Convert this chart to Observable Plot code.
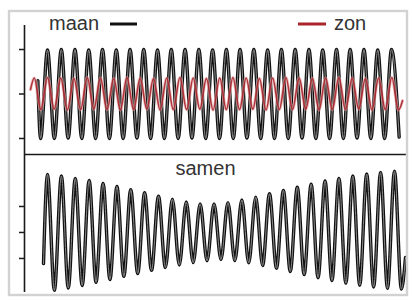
<!DOCTYPE html>
<html><head><meta charset="utf-8">
<script src="https://cdn.jsdelivr.net/npm/d3@7"></script>
<script src="https://cdn.jsdelivr.net/npm/@observablehq/plot@0.6"></script>
<style>
html,body{margin:0;padding:0;background:#fff;}
#chart{position:relative;width:412px;height:300px;overflow:hidden;background:#fff;font-family:"Liberation Sans",Arial,sans-serif;}
#chart > svg{position:absolute;left:0;}
</style></head><body><div id="chart"></div>
<script>
// ---- data (time in hours) ----
const seriesNames = ["maan", "zon", "samen"];

// moon tide (top, black): extremes
const maanTijd = [12.0, 14.5, 20.7, 26.9, 33.1, 39.3, 45.4, 51.6, 57.8, 64.0, 70.2, 76.4, 82.6, 88.8, 95.0, 101.2, 107.3, 113.5, 119.7, 125.9, 132.1, 138.3, 144.5, 150.7, 156.9, 163.1, 169.3, 175.5, 181.7, 187.9, 194.0, 200.2, 206.4, 212.6, 218.8, 225.0, 231.2, 237.4, 243.6, 249.8, 256.0, 262.2, 268.4, 274.6, 280.8, 287.0, 293.1, 299.3, 305.5, 311.7, 317.9, 324.1, 330.3, 337.2];
const maanWaarde = [0.3, -1.0, 0.99, -1.0, 1.0, -0.99, 1.0, -1.0, 0.99, -1.0, 1.0, -1.0, 0.99, -1.0, 1.0, -0.99, 1.0, -1.0, 0.99, -1.0, 1.0, -1.0, 1.0, -0.99, 1.0, -1.0, 0.99, -1.0, 1.0, -1.0, 1.0, -0.99, 1.0, -1.0, 0.99, -1.0, 1.0, -1.0, 1.0, -0.99, 1.0, -1.0, 0.99, -1.0, 1.0, -1.0, 1.0, -0.99, 1.0, -1.0, 0.99, -1.0, 1.0, -0.97];

// sun tide (top, red): extremes
const zonTijd = [5.4, 8.8, 14.7, 20.7, 26.7, 32.6, 38.6, 44.5, 50.5, 56.5, 62.4, 68.4, 74.3, 80.3, 86.3, 92.2, 98.2, 104.1, 110.1, 116.1, 122.0, 128.0, 133.9, 139.9, 145.9, 151.8, 157.8, 163.7, 169.7, 175.7, 181.6, 187.6, 193.5, 199.5, 205.5, 211.4, 217.4, 223.3, 229.3, 235.3, 241.2, 247.2, 253.1, 259.1, 265.1, 271.0, 277.0, 282.9, 288.9, 294.9, 300.8, 306.8, 312.7, 318.7, 324.7, 330.6, 336.6, 340.2];
const zonWaarde = [0.1, 0.36, -0.35, 0.37, -0.34, 0.36, -0.36, 0.35, -0.35, 0.37, -0.34, 0.36, -0.35, 0.35, -0.36, 0.37, -0.35, 0.36, -0.34, 0.35, -0.36, 0.36, -0.35, 0.37, -0.35, 0.36, -0.34, 0.35, -0.36, 0.36, -0.35, 0.37, -0.35, 0.36, -0.34, 0.35, -0.36, 0.36, -0.35, 0.37, -0.35, 0.36, -0.34, 0.35, -0.36, 0.36, -0.35, 0.37, -0.35, 0.36, -0.34, 0.35, -0.36, 0.36, -0.35, 0.37, -0.36, -0.15];

// combined tide (bottom): extremes
const samenTijd = [17.1, 20.7, 26.9, 33.2, 39.4, 45.7, 51.9, 58.2, 64.4, 70.7, 76.9, 83.2, 89.4, 95.6, 101.9, 108.1, 114.3, 120.6, 126.8, 133.1, 139.3, 145.6, 151.8, 158.1, 164.3, 170.6, 176.8, 183.1, 189.3, 195.6, 201.8, 208.1, 214.3, 220.5, 226.8, 233.0, 239.2, 245.5, 251.7, 258.0, 264.2, 270.5, 276.7, 283.0, 289.2, 295.5, 301.7, 308.0, 314.2, 320.5, 326.7, 333.0, 339.2, 342.9];
const samenWaarde = [-1.2, 2.23, -2.23, 2.17, -2.14, 2.08, -2.04, 2.0, -1.92, 1.89, -1.81, 1.77, -1.69, 1.65, -1.58, 1.53, -1.46, 1.40, -1.35, 1.28, -1.25, 1.17, -1.16, 1.10, -1.09, 1.10, -1.04, 1.15, -1.08, 1.25, -1.17, 1.36, -1.27, 1.49, -1.38, 1.62, -1.50, 1.74, -1.62, 1.86, -1.74, 1.98, -1.85, 2.08, -1.95, 2.17, -2.03, 2.25, -2.10, 2.31, -2.15, 2.36, -2.18, -0.96];

const topTicks = [-1, 0, 1];
const bottomTicks = [-1, 0, 1];

// ---- build tables ----
const maan = maanTijd.map((t, i) => ({t, v: maanWaarde[i]}));
const zon = zonTijd.map((t, i) => ({t, v: zonWaarde[i]}));
const samen = samenTijd.map((t, i) => ({t, v: samenWaarde[i]}));

const xDomain = [0, 345.6];
const AX = "#1a1a1a";
const RED = "#a8242a";

const topPlot = Plot.plot({
  width: 412, height: 155,
  marginLeft: 24, marginRight: 4, marginTop: 25, marginBottom: 1,
  style: {background: "transparent", overflow: "visible"},
  x: {domain: xDomain, axis: null},
  y: {domain: [-1.36, 1.54], axis: null},
  marks: [
    Plot.line(maan, {x: "t", y: "v", curve: "monotone-x", stroke: "#111", strokeWidth: 3.4}),
    Plot.line(maan, {x: "t", y: "v", curve: "monotone-x", stroke: "#8a8a8a", strokeWidth: 1.0}),
    Plot.line(zon, {x: "t", y: "v", curve: "monotone-x", stroke: "#e2a3a5", strokeWidth: 3.2, strokeOpacity: 0.6}),
    Plot.line(zon, {x: "t", y: "v", curve: "monotone-x", stroke: RED, strokeWidth: 1.6, strokeOpacity: 0.9}),
    Plot.ruleX([xDomain[0]], {stroke: AX, strokeWidth: 1.6}),
    Plot.ruleY([-1.36], {stroke: AX, strokeWidth: 1.6}),
    Plot.axisY({ticks: topTicks, tickSize: 5, tickFormat: () => "", label: null, stroke: AX, strokeWidth: 1.5})
  ]
});

const bottomPlot = Plot.plot({
  width: 412, height: 140,
  marginLeft: 24, marginRight: 4, marginTop: 0, marginBottom: 2,
  style: {background: "transparent", overflow: "visible"},
  x: {domain: xDomain, axis: null},
  y: {domain: [-2.31, 3.0], axis: null},
  marks: [
    Plot.line(samen, {x: "t", y: "v", curve: "monotone-x", stroke: "#111", strokeWidth: 3.4}),
    Plot.line(samen, {x: "t", y: "v", curve: "monotone-x", stroke: "#8a8a8a", strokeWidth: 1.0}),
    Plot.ruleX([xDomain[0]], {stroke: AX, strokeWidth: 1.6}),
    Plot.axisY({ticks: bottomTicks, tickSize: 5, tickFormat: () => "", label: null, stroke: AX, strokeWidth: 1.5})
  ]
});

const chart = document.getElementById("chart");
topPlot.style.top = "0px";
bottomPlot.style.top = "154px";
chart.appendChild(topPlot);
chart.appendChild(bottomPlot);

// frame, legend and panel label
const ns = "http://www.w3.org/2000/svg";
const ov = document.createElementNS(ns, "svg");
ov.setAttribute("width", 412); ov.setAttribute("height", 300);
ov.style.position = "absolute"; ov.style.left = "0px"; ov.style.top = "0px";
function el(name, attrs, text) {
  const e = document.createElementNS(ns, name);
  for (const k in attrs) e.setAttribute(k, attrs[k]);
  if (text != null) e.textContent = text;
  ov.appendChild(e);
  return e;
}
el("rect", {x: 9, y: 11, width: 398, height: 284, fill: "none", stroke: "#d2d2d2", "stroke-width": 2.4});
const font = {"font-family": "Liberation Sans, Arial, sans-serif", "font-size": 20, fill: "#333"};
el("text", {x: 49, y: 30, ...font}, seriesNames[0]);
el("line", {x1: 110, x2: 137, y1: 24, y2: 24, stroke: "#111", "stroke-width": 3});
el("line", {x1: 298, x2: 326, y1: 24, y2: 24, stroke: RED, "stroke-width": 3});
el("text", {x: 334, y: 30, ...font}, seriesNames[1]);
el("text", {x: 205.5, y: 175, "text-anchor": "middle", ...font}, seriesNames[2]);
chart.appendChild(ov);
</script>
</body></html>
